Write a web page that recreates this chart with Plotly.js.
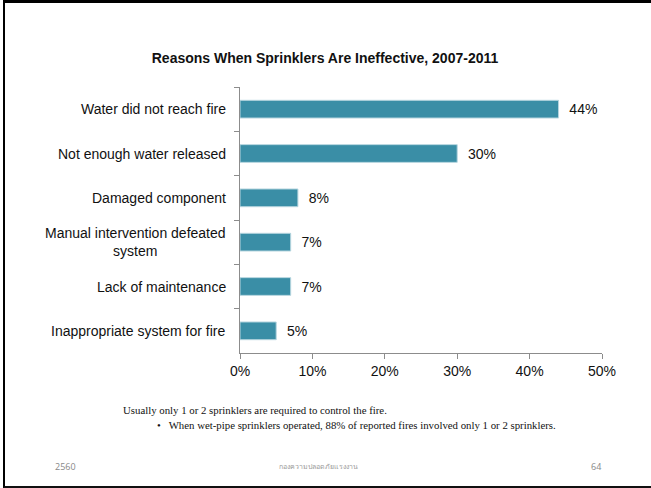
<!DOCTYPE html>
<html>
<head>
<meta charset="utf-8">
<script src="https://cdn.plot.ly/plotly-3.0.1.min.js"></script>
<style>
html,body{margin:0;padding:0;background:#fff;}
#wrap{position:relative;width:651px;height:488px;overflow:hidden;}
#chart{position:absolute;left:0;top:0;width:651px;height:488px;}
#frame{position:absolute;left:3px;top:0;width:648px;height:488px;border-left:2px solid #000;border-top:3px solid #000;border-bottom:2px solid #111;box-sizing:border-box;pointer-events:none;}
</style>
</head>
<body>
<div id="wrap"><div id="chart"></div><div id="frame"></div></div>
<script>
const categories = [
  "Water did not reach fire",
  "Not enough water released",
  "Damaged component",
  "Manual intervention defeated<br>system",
  "Lack of maintenance",
  "Inappropriate system for fire"
];
const values = [44, 30, 8, 7, 7, 5];
const xTicks = [0, 10, 20, 30, 40, 50];
const titleText = "Reasons When Sprinklers Are Ineffective, 2007-2011";
const noteLines = [
  "Usually only 1 or 2 sprinklers are required to control the fire.",
  "•   When wet-pipe sprinklers operated, 88% of reported fires involved only 1 or 2 sprinklers."
];
const footer = ["2560", "กองความปลอดภัยแรงงาน", "64"];

const font = "Liberation Sans, Arial, sans-serif";
const serif = "Liberation Serif, Times New Roman, serif";

const trace = {
  type: "bar",
  orientation: "h",
  y: categories,
  x: values,
  marker: {color: "#3a8ea6", line: {color: "#b7d6df", width: 1}},
  text: values.map(v => "\u00a0\u00a0" + v + "%"),
  textposition: "outside",
  textfont: {family: font, size: 14, color: "#111"},
  cliponaxis: false,
  hoverinfo: "skip"
};

const annotations = categories.map(c => ({
  xref: "paper", yref: "y", x: 0, y: c, xanchor: "right", yanchor: "middle",
  xshift: -12, text: c, align: "center", showarrow: false,
  font: {family: font, size: 14, color: "#111"}
}));

// notes
annotations.push({xref:"paper", yref:"paper", x:(121-240)/362, y:(353-410)/266, xanchor:"left", yanchor:"middle",
  text: noteLines[0], showarrow:false, align:"left", font:{family:serif, size:10.8, color:"#111"}});
annotations.push({xref:"paper", yref:"paper", x:(155-240)/362, y:(353-425)/266, xanchor:"left", yanchor:"middle",
  text: noteLines[1], showarrow:false, align:"left", font:{family:serif, size:10.8, color:"#111"}});
// footer
annotations.push({xref:"paper", yref:"paper", x:(53-240)/362, y:(353-466)/266, xanchor:"left", yanchor:"middle",
  text: footer[0], showarrow:false, font:{family:"Open Sans, sans-serif", size:9, color:"#888"}});
annotations.push({xref:"paper", yref:"paper", x:(318-240)/362, y:(353-466)/266, xanchor:"center", yanchor:"middle",
  text: footer[1], showarrow:false, font:{family:"Noto Sans, sans-serif", size:7, color:"#999"}});
annotations.push({xref:"paper", yref:"paper", x:(603-240)/362, y:(353-466)/266, xanchor:"right", yanchor:"middle",
  text: footer[2], showarrow:false, font:{family:"Open Sans, sans-serif", size:9, color:"#888"}});

const layout = {
  width: 651, height: 488,
  margin: {l: 240, r: 49, t: 87, b: 135},
  paper_bgcolor: "#fff", plot_bgcolor: "#fff",
  showlegend: false,
  bargap: 0.6,
  title: {text: "<b>" + titleText + "</b>", x: 325/651, xanchor: "center", y: 1 - 58/488, yanchor: "middle", yref: "container", xref: "container",
    font: {family: font, size: 14, color: "#111"}},
  xaxis: {
    range: [0, 50], tickvals: xTicks, ticktext: xTicks.map(t => t + "%"),
    showgrid: false, zeroline: false, showline: true, linecolor: "#8c8c8c", linewidth: 1,
    ticks: "outside", ticklen: 5, tickcolor: "#8c8c8c",
    tickfont: {family: font, size: 14, color: "#111"}, fixedrange: true
  },
  yaxis: {
    type: "category", autorange: "reversed", showticklabels: false,
    showgrid: false, zeroline: false, showline: true, linecolor: "#8c8c8c", linewidth: 1,
    ticks: "outside", ticklen: 5, tickcolor: "#8c8c8c", tickson: "boundaries", fixedrange: true
  },
  annotations: annotations
};

Plotly.newPlot("chart", [trace], layout, {displayModeBar: false, staticPlot: true});
</script>
</body>
</html>
